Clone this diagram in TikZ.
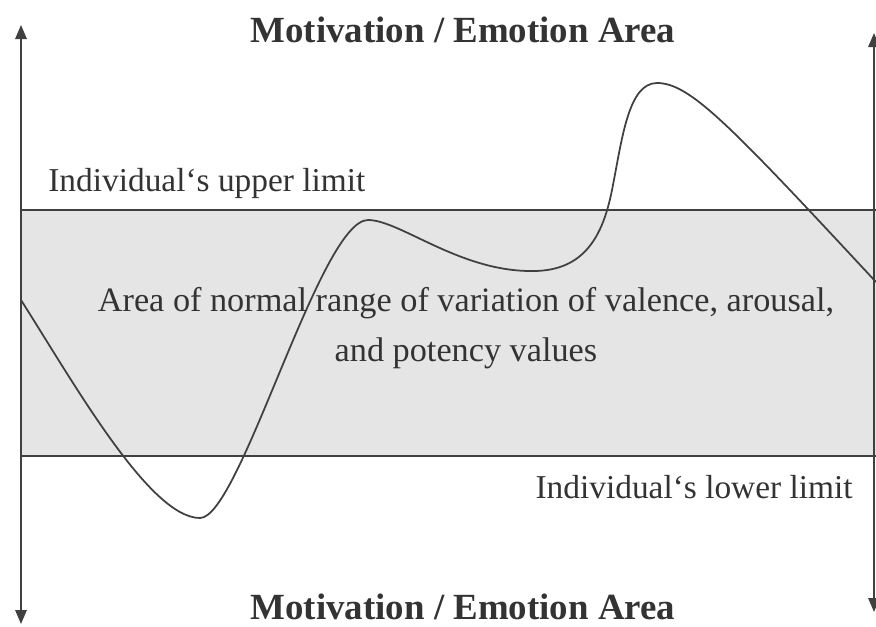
\documentclass[tikz,border=0pt]{standalone}
\usepackage{fontspec}
\setmainfont{Liberation Serif}
\usetikzlibrary{positioning,arrows.meta}
\tikzset{
  axisline/.style={{Triangle[length=2.8mm,width=2.3mm]}-{Triangle[length=2.8mm,width=2.3mm]}, line width=0.9pt, draw=black!75},
  limitline/.style={line width=0.8pt, draw=black!75},
  band/.style={fill=black!10},
  wave/.style={line width=1pt, draw=black!75},
  areatitle/.style={font=\bfseries\fontsize{21}{24}\selectfont, text=black!80},
  limitlabel/.style={font=\fontsize{19}{22}\selectfont, text=black!80, inner sep=0pt},
  bandlabel/.style={font=\fontsize{19.5}{28.5}\selectfont, text=black!80, align=center, inner sep=0pt}
}

\begin{document}
\begin{tikzpicture}[x=0.02cm, y=-0.02cm]
  \useasboundingbox (0,0) rectangle (876,626);
  % normal range
  \fill[band] (21,210) rectangle (876,456);
  \draw[limitline] (21,210) -- (876,210);
  \draw[limitline] (21,456) -- (876,456);
  % axes
  \coordinate (ltop) at (21,25);
  \coordinate (lbot) at (21,624);
  \coordinate (rtop) at (874,33);
  \coordinate (rbot) at (874,612);
  \draw[axisline] (ltop) -- (lbot);
  \draw[axisline] (rtop) -- (rbot);
  % course of the values
  \draw[wave] (21,300) .. controls (75,385) and (150,518) .. (200,518)
    .. controls (240,518) and (320,220) .. (368,220)
    .. controls (400,220) and (460,272) .. (533,271)
    .. controls (585,271) and (603,235) .. (612,190)
    .. controls (622,140) and (628,83) .. (657,83)
    .. controls (690,83) and (730,125) .. (876,282);
  % labels
  \node[areatitle] (toptitle) at (463,30) {Motivation / Emotion Area};
  \node[areatitle] (bottitle) at (463,607) {Motivation / Emotion Area};
  \node[limitlabel, anchor=west] (upper) at (48,183) {Individual`s upper limit};
  \node[limitlabel, anchor=east] (lower) at (853,487) {Individual`s lower limit};
  \node[bandlabel] (normal) at (466,328) {Area of normal range of variation of valence, arousal,\\ and potency values};
\end{tikzpicture}
\end{document}
